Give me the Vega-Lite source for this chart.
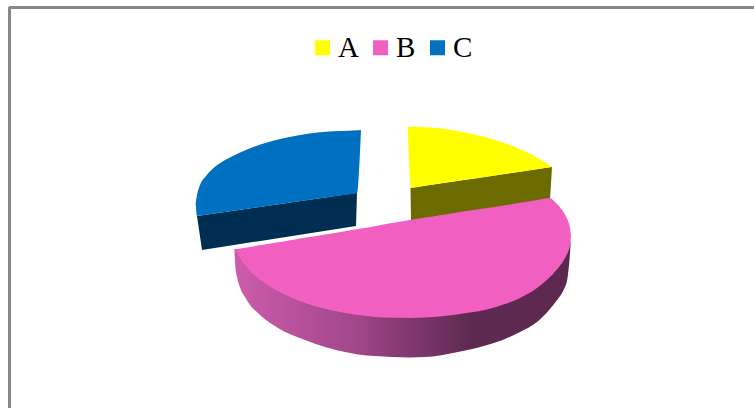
{
  "$schema": "https://vega.github.io/schema/vega-lite/v6.json",
  "width": 754,
  "height": 408,
  "padding": 0,
  "autosize": {"type": "none"},
  "background": "white",
  "config": {"view": {"stroke": null}},
  "data": {
    "values": [
      {"slice": "C", "face": "top", "x": 195.7, "y": 203, "y2": 204},
      {"slice": "C", "face": "top", "x": 197, "y": 195, "y2": 216},
      {"slice": "C", "face": "top", "x": 200, "y": 185, "y2": 215.6},
      {"slice": "C", "face": "top", "x": 206, "y": 176, "y2": 214.7},
      {"slice": "C", "face": "top", "x": 213, "y": 168.5, "y2": 213.7},
      {"slice": "C", "face": "top", "x": 221, "y": 162.5, "y2": 212.6},
      {"slice": "C", "face": "top", "x": 230, "y": 157.5, "y2": 211.3},
      {"slice": "C", "face": "top", "x": 247, "y": 149.5, "y2": 208.8},
      {"slice": "C", "face": "top", "x": 267, "y": 142.5, "y2": 205.9},
      {"slice": "C", "face": "top", "x": 287, "y": 137.5, "y2": 203.1},
      {"slice": "C", "face": "top", "x": 313, "y": 133, "y2": 199.3},
      {"slice": "C", "face": "top", "x": 340, "y": 131, "y2": 195.4},
      {"slice": "C", "face": "top", "x": 357, "y": 130.3, "y2": 193},
      {"slice": "C", "face": "top", "x": 361, "y": 130, "y2": 130},
      {"slice": "C", "face": "side", "x": 197, "y": 216, "y2": 216},
      {"slice": "C", "face": "side", "x": 202, "y": 215.3, "y2": 250},
      {"slice": "C", "face": "side", "x": 356, "y": 193.1, "y2": 226},
      {"slice": "C", "face": "side", "x": 357, "y": 193, "y2": 193},
      {"slice": "A", "face": "top", "x": 407.7, "y": 126.7, "y2": 126.7},
      {"slice": "A", "face": "top", "x": 411, "y": 126.8, "y2": 187.7},
      {"slice": "A", "face": "top", "x": 428, "y": 127.3, "y2": 185.2},
      {"slice": "A", "face": "top", "x": 462, "y": 131.7, "y2": 180.2},
      {"slice": "A", "face": "top", "x": 495, "y": 140, "y2": 175.4},
      {"slice": "A", "face": "top", "x": 522, "y": 150, "y2": 171.4},
      {"slice": "A", "face": "top", "x": 538, "y": 158, "y2": 169},
      {"slice": "A", "face": "top", "x": 552, "y": 167, "y2": 167},
      {"slice": "A", "face": "side", "x": 410.5, "y": 187.8, "y2": 187.8},
      {"slice": "A", "face": "side", "x": 411, "y": 187.7, "y2": 222},
      {"slice": "A", "face": "side", "x": 550, "y": 167.3, "y2": 200},
      {"slice": "A", "face": "side", "x": 552, "y": 167, "y2": 167},
      {"slice": "B", "face": "side", "x": 234.5, "y": 249, "y2": 252},
      {"slice": "B", "face": "side", "x": 235, "y": 249, "y2": 262},
      {"slice": "B", "face": "side", "x": 236, "y": 249, "y2": 272},
      {"slice": "B", "face": "side", "x": 237, "y": 250, "y2": 277},
      {"slice": "B", "face": "side", "x": 238, "y": 252, "y2": 281},
      {"slice": "B", "face": "side", "x": 241, "y": 257, "y2": 290},
      {"slice": "B", "face": "side", "x": 245, "y": 263, "y2": 297},
      {"slice": "B", "face": "side", "x": 250, "y": 269, "y2": 305},
      {"slice": "B", "face": "side", "x": 258, "y": 276, "y2": 313},
      {"slice": "B", "face": "side", "x": 266, "y": 282, "y2": 320},
      {"slice": "B", "face": "side", "x": 275, "y": 288, "y2": 326},
      {"slice": "B", "face": "side", "x": 285, "y": 293, "y2": 332},
      {"slice": "B", "face": "side", "x": 292, "y": 296, "y2": 335},
      {"slice": "B", "face": "side", "x": 305, "y": 301, "y2": 340},
      {"slice": "B", "face": "side", "x": 325, "y": 307, "y2": 347},
      {"slice": "B", "face": "side", "x": 345, "y": 311, "y2": 352},
      {"slice": "B", "face": "side", "x": 358, "y": 313, "y2": 354.5},
      {"slice": "B", "face": "side", "x": 375, "y": 315, "y2": 356},
      {"slice": "B", "face": "side", "x": 392, "y": 316, "y2": 357},
      {"slice": "B", "face": "side", "x": 410, "y": 316, "y2": 357.5},
      {"slice": "B", "face": "side", "x": 425, "y": 315, "y2": 357},
      {"slice": "B", "face": "side", "x": 440, "y": 314, "y2": 355.5},
      {"slice": "B", "face": "side", "x": 453, "y": 313, "y2": 353},
      {"slice": "B", "face": "side", "x": 470, "y": 310, "y2": 349.5},
      {"slice": "B", "face": "side", "x": 487, "y": 307, "y2": 345},
      {"slice": "B", "face": "side", "x": 505, "y": 302, "y2": 339},
      {"slice": "B", "face": "side", "x": 520, "y": 296, "y2": 332},
      {"slice": "B", "face": "side", "x": 537, "y": 286, "y2": 322},
      {"slice": "B", "face": "side", "x": 550, "y": 275, "y2": 309},
      {"slice": "B", "face": "side", "x": 556, "y": 270, "y2": 301.5},
      {"slice": "B", "face": "side", "x": 562, "y": 262, "y2": 293},
      {"slice": "B", "face": "side", "x": 565, "y": 257, "y2": 287},
      {"slice": "B", "face": "side", "x": 567, "y": 252, "y2": 281},
      {"slice": "B", "face": "side", "x": 568.5, "y": 249, "y2": 270},
      {"slice": "B", "face": "side", "x": 569.5, "y": 246, "y2": 260},
      {"slice": "B", "face": "side", "x": 570.5, "y": 240, "y2": 245},
      {"slice": "B", "face": "top", "x": 234.5, "y": 249.5, "y2": 249.5},
      {"slice": "B", "face": "top", "x": 235, "y": 249.4, "y2": 250},
      {"slice": "B", "face": "top", "x": 236, "y": 249.2, "y2": 251},
      {"slice": "B", "face": "top", "x": 238, "y": 248.9, "y2": 254},
      {"slice": "B", "face": "top", "x": 241, "y": 248.4, "y2": 259.5},
      {"slice": "B", "face": "top", "x": 245, "y": 247.7, "y2": 265.2},
      {"slice": "B", "face": "top", "x": 250, "y": 246.9, "y2": 270.9},
      {"slice": "B", "face": "top", "x": 258, "y": 245.6, "y2": 278.2},
      {"slice": "B", "face": "top", "x": 266, "y": 244.3, "y2": 284},
      {"slice": "B", "face": "top", "x": 275, "y": 242.8, "y2": 289.6},
      {"slice": "B", "face": "top", "x": 285, "y": 241.2, "y2": 294.8},
      {"slice": "B", "face": "top", "x": 292, "y": 240, "y2": 297.9},
      {"slice": "B", "face": "top", "x": 305, "y": 237.8, "y2": 302.9},
      {"slice": "B", "face": "top", "x": 325, "y": 234.5, "y2": 308.8},
      {"slice": "B", "face": "top", "x": 345, "y": 231.2, "y2": 313.1},
      {"slice": "B", "face": "top", "x": 358, "y": 229, "y2": 315.1},
      {"slice": "B", "face": "top", "x": 375, "y": 226.2, "y2": 316.9},
      {"slice": "B", "face": "top", "x": 392, "y": 223, "y2": 317.8},
      {"slice": "B", "face": "top", "x": 410, "y": 220, "y2": 317.9},
      {"slice": "B", "face": "top", "x": 425, "y": 217.6, "y2": 317.5},
      {"slice": "B", "face": "top", "x": 440, "y": 215.3, "y2": 316.5},
      {"slice": "B", "face": "top", "x": 453, "y": 213.3, "y2": 315},
      {"slice": "B", "face": "top", "x": 470, "y": 210.6, "y2": 312.5},
      {"slice": "B", "face": "top", "x": 487, "y": 208, "y2": 309.5},
      {"slice": "B", "face": "top", "x": 505, "y": 205.2, "y2": 304},
      {"slice": "B", "face": "top", "x": 520, "y": 202.8, "y2": 298},
      {"slice": "B", "face": "top", "x": 537, "y": 200, "y2": 288},
      {"slice": "B", "face": "top", "x": 550, "y": 198, "y2": 277},
      {"slice": "B", "face": "top", "x": 553, "y": 200, "y2": 274},
      {"slice": "B", "face": "top", "x": 556, "y": 203, "y2": 270},
      {"slice": "B", "face": "top", "x": 559, "y": 206, "y2": 267},
      {"slice": "B", "face": "top", "x": 562, "y": 210, "y2": 263},
      {"slice": "B", "face": "top", "x": 565, "y": 214.5, "y2": 258},
      {"slice": "B", "face": "top", "x": 568, "y": 221, "y2": 252},
      {"slice": "B", "face": "top", "x": 570, "y": 228, "y2": 245},
      {"slice": "B", "face": "top", "x": 571, "y": 236, "y2": 236}
    ]
  },
  "encoding": {
    "x": {"field": "x", "type": "quantitative", "scale": {"domain": [0, 754], "nice": false, "zero": false}, "axis": null},
    "y": {"field": "y", "type": "quantitative", "scale": {"domain": [408, 0], "nice": false, "zero": false}, "axis": null},
    "y2": {"field": "y2"}
  },
  "layer": [
    {
      "transform": [{"filter": "datum.slice === 'C' && datum.face === 'side'"}],
      "mark": {"type": "area", "orient": "vertical", "fill": "#002d52"}
    },
    {
      "transform": [{"filter": "datum.slice === 'A' && datum.face === 'side'"}],
      "mark": {"type": "area", "orient": "vertical", "fill": "#6b6b00"}
    },
    {
      "transform": [{"filter": "datum.slice !== 'B' && datum.face === 'top'"}],
      "mark": {"type": "area", "orient": "vertical", "interpolate": "monotone"},
      "encoding": {
        "color": {
          "field": "slice",
          "type": "nominal",
          "scale": {"domain": ["A", "B", "C"], "range": ["#ffff00", "#f15fc0", "#0070c0"]},
          "legend": {
            "title": null,
            "orient": "none",
            "legendX": 308,
            "legendY": 33,
            "direction": "horizontal",
            "columns": 3,
            "symbolType": "square",
            "symbolSize": 225,
            "symbolStrokeWidth": 0,
            "labelFont": "Liberation Serif",
            "labelFontSize": 29,
            "labelColor": "#000000",
            "labelOffset": 1,
            "columnPadding": 7
          }
        }
      }
    },
    {
      "transform": [{"filter": "datum.slice === 'B' && datum.face === 'side'"}],
      "mark": {
        "type": "area",
        "orient": "vertical",
        "interpolate": "monotone",
        "fill": {
          "gradient": "linear",
          "x1": 0, "y1": 0, "x2": 1, "y2": 0,
          "stops": [
            {"offset": 0, "color": "#cd5cab"},
            {"offset": 0.17, "color": "#b8529c"},
            {"offset": 0.37, "color": "#a0478a"},
            {"offset": 0.47, "color": "#8a3c77"},
            {"offset": 0.57, "color": "#77346b"},
            {"offset": 0.7, "color": "#5f2a52"},
            {"offset": 1, "color": "#5c2850"}
          ]
        }
      }
    },
    {
      "transform": [{"filter": "datum.slice === 'B' && datum.face === 'top'"}],
      "mark": {"type": "area", "orient": "vertical", "interpolate": "monotone"},
      "encoding": {"color": {"field": "slice", "type": "nominal"}}
    },
    {
      "mark": {"type": "rule", "color": "#868686", "strokeWidth": 1.5},
      "encoding": {"x": {"datum": 9.5}, "y": {"datum": 7.5}, "y2": {"datum": 408}}
    },
    {
      "mark": {"type": "rule", "color": "#868686", "strokeWidth": 1.5},
      "encoding": {"y": {"datum": 7.5}, "x": {"datum": 9.5}, "x2": {"datum": 754}, "y2": null}
    }
  ]
}
